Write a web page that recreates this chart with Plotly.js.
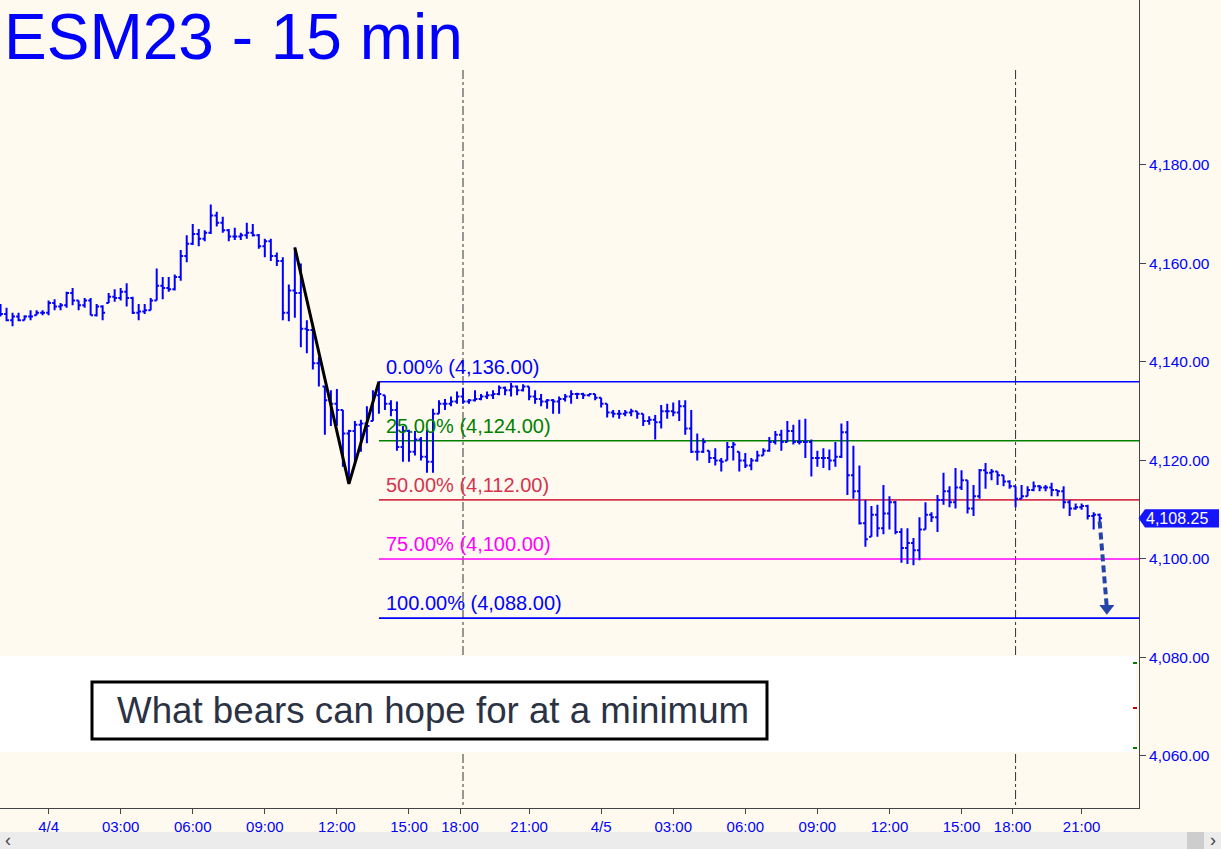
<!DOCTYPE html>
<html><head><meta charset="utf-8">
<script src="https://cdn.plot.ly/plotly-3.0.1.min.js"></script>
<style>html,body{margin:0;padding:0;background:#fffaf0;}#chart{width:1221px;height:849px;}</style>
</head><body><div id="chart"></div>
<script>
// ---- DATA (15-min bars, ESM23) ----
const firstBar = -8; // bar index of first bar, 4/4 00:00 = 0
const opens = [
 4150.5,4149.75,4148.5,4149.25,4148.5,4149.25,4149.5,4150.0,
 4150.0,4152.0,4151.25,4151.5,4154.0,4152.5,4151.5,4152.5,
 4149.5,4151.25,4152.0,4153.25,4153.0,4154.25,4153.0,4150.0,
 4150.25,4150.5,4152.5,4155.5,4155.0,4154.75,4157.25,4161.5,
 4164.0,4166.0,4165.0,4166.25,4169.75,4168.25,4166.75,4165.5,
 4165.5,4165.75,4166.25,4165.75,4163.5,4164.5,4161.5,4160.5,
 4150.0,4154.5,4154.0,4146.75,4146.5,4139.75,4135.0,4132.25,
 4131.5,4130.25,4125.5,4126.0,4127.25,4127.5,4128.0,4133.25,
 4133.25,4131.5,4130.25,4122.75,4126.0,4121.75,4124.25,4120.75,
 4119.75,4129.5,4131.5,4131.5,4132.0,4133.0,4132.0,4132.25,
 4132.5,4133.0,4133.25,4133.5,4134.75,4134.25,4135.0,4134.25,
 4135.0,4133.0,4132.5,4132.0,4132.25,4132.0,4132.5,4133.0,
 4133.5,4133.5,4133.25,4133.5,4132.75,4131.5,4129.75,4129.5,
 4129.5,4129.75,4130.0,4129.5,4128.0,4128.25,4127.75,4130.0,
 4130.0,4129.75,4131.0,4126.5,4121.75,4121.75,4122.0,4120.5,
 4120.0,4120.0,4122.75,4121.75,4120.0,4119.0,4120.0,4121.0,
 4122.0,4123.75,4125.25,4123.75,4126.0,4123.75,4123.75,4123.75,
 4120.5,4120.5,4120.5,4120.0,4120.75,4125.75,4117.0,4113.75,
 4107.25,4104.5,4109.0,4106.25,4109.25,4111.5,4105.5,4102.25,
 4103.25,4101.75,4106.0,4109.0,4108.5,4112.0,4113.75,4111.5,
 4114.5,4116.0,4110.25,4112.75,4118.0,4117.5,4117.75,4117.0,
 4115.75,4114.75,4112.25,4112.75,4114.0,4114.75,4114.5,4114.5,
 4114.0,4113.75,4111.5,4110.25,4110.5,4110.75,4108.75,4109.0
];
const highs = [
 4151.75,4151.0,4150.0,4150.0,4149.5,4150.5,4150.5,4150.5,
 4152.5,4152.75,4152.0,4154.25,4155.0,4152.5,4153.0,4153.0,
 4151.75,4151.5,4154.0,4154.75,4155.0,4156.0,4153.25,4151.75,
 4151.75,4153.0,4159.0,4157.25,4157.25,4157.75,4162.75,4165.75,
 4168.0,4167.0,4166.75,4172.0,4170.5,4169.5,4167.0,4167.25,
 4166.25,4168.25,4168.0,4166.0,4165.0,4165.0,4162.25,4161.25,
 4155.75,4163.25,4160.0,4148.5,4147.25,4141.0,4135.0,4134.25,
 4134.5,4130.25,4126.25,4128.0,4128.25,4131.0,4134.25,4136.0,
 4133.25,4132.25,4132.0,4127.0,4126.25,4126.0,4124.75,4126.25,
 4130.5,4132.25,4132.5,4133.0,4134.0,4134.75,4132.5,4134.25,
 4133.5,4134.0,4134.25,4135.25,4135.0,4135.75,4135.25,4135.5,
 4135.0,4134.25,4133.5,4132.5,4132.5,4133.0,4133.5,4134.25,
 4133.75,4133.75,4133.5,4133.5,4132.75,4131.5,4130.25,4130.25,
 4130.25,4130.5,4130.0,4129.5,4129.0,4129.25,4131.25,4131.5,
 4131.75,4132.25,4132.25,4130.25,4125.5,4124.5,4122.0,4122.5,
 4120.5,4123.75,4123.75,4121.75,4121.5,4120.5,4122.0,4122.5,
 4124.75,4126.0,4126.25,4128.0,4127.25,4128.25,4128.5,4124.25,
 4122.0,4122.5,4122.25,4123.75,4127.5,4128.0,4123.0,4119.0,
 4112.0,4110.75,4111.0,4115.0,4112.75,4111.75,4106.25,4106.25,
 4104.25,4108.5,4111.5,4109.5,4113.0,4117.5,4114.75,4118.5,
 4118.0,4116.0,4115.0,4118.25,4119.5,4118.25,4117.75,4117.0,
 4116.0,4114.75,4115.0,4114.75,4115.75,4115.0,4115.0,4115.5,
 4114.0,4114.75,4112.0,4111.25,4111.25,4111.0,4109.5,4109.25
];
const lows = [
 4149.25,4148.25,4147.25,4148.25,4148.5,4148.5,4149.5,4149.5,
 4149.5,4150.5,4150.5,4151.0,4151.5,4150.5,4151.0,4149.5,
 4149.25,4148.5,4152.0,4152.25,4152.5,4151.25,4149.75,4148.5,
 4149.75,4150.5,4152.5,4152.75,4154.25,4154.5,4156.5,4160.25,
 4163.75,4163.5,4164.5,4166.0,4167.5,4166.25,4164.5,4164.75,
 4164.75,4165.0,4165.5,4163.0,4161.25,4160.5,4159.5,4148.5,
 4148.25,4149.0,4143.0,4141.75,4138.5,4135.0,4125.25,4127.0,
 4127.0,4118.75,4115.25,4119.5,4121.75,4123.5,4128.0,4129.5,
 4130.25,4129.0,4122.0,4119.75,4119.75,4121.0,4120.0,4117.5,
 4117.5,4129.5,4130.25,4131.0,4131.5,4131.5,4131.5,4132.0,
 4132.25,4132.5,4132.5,4133.25,4133.25,4133.0,4133.25,4134.0,
 4132.25,4131.5,4131.0,4130.5,4129.5,4129.5,4132.0,4131.5,
 4132.5,4132.5,4133.0,4132.25,4130.75,4128.75,4128.75,4128.5,
 4129.0,4129.0,4128.5,4127.0,4127.25,4124.25,4126.5,4128.5,
 4129.0,4128.0,4125.25,4121.5,4120.0,4121.5,4119.5,4119.0,
 4117.75,4120.0,4120.0,4117.75,4118.5,4118.0,4119.75,4121.0,
 4121.75,4123.25,4122.0,4123.75,4123.25,4123.25,4120.5,4116.75,
 4118.75,4118.5,4118.0,4118.75,4120.5,4113.0,4112.25,4107.0,
 4102.5,4104.5,4104.5,4105.0,4106.0,4105.0,4099.25,4099.0,
 4098.75,4099.75,4106.0,4107.5,4105.5,4111.0,4110.5,4110.25,
 4114.0,4109.25,4108.75,4112.25,4114.25,4116.0,4115.0,4114.75,
 4114.25,4110.5,4112.25,4112.75,4113.75,4113.75,4113.75,4112.75,
 4112.75,4110.25,4108.75,4110.0,4110.0,4108.0,4106.0,4107.5
];
const closes = [
 4149.75,4148.5,4149.25,4148.5,4149.25,4149.25,4150.0,4150.0,
 4152.0,4151.25,4151.5,4154.0,4152.5,4151.5,4152.5,4149.5,
 4151.25,4150.0,4153.25,4153.0,4154.25,4153.0,4150.0,4150.25,
 4150.5,4152.5,4155.5,4155.0,4154.75,4157.25,4161.5,4164.0,
 4166.0,4165.0,4166.25,4169.75,4168.25,4166.75,4165.5,4165.5,
 4165.75,4166.25,4165.75,4163.5,4164.5,4161.5,4160.5,4150.0,
 4154.5,4154.0,4146.75,4146.5,4139.75,4140.5,4132.25,4131.5,
 4130.25,4125.5,4126.0,4127.25,4127.5,4127.0,4133.25,4133.5,
 4131.5,4130.25,4122.75,4126.0,4121.75,4124.25,4120.75,4119.75,
 4129.5,4131.5,4131.5,4132.0,4133.0,4132.0,4132.25,4132.5,
 4133.0,4133.25,4133.5,4134.75,4134.25,4135.0,4134.25,4135.0,
 4133.0,4132.5,4132.0,4132.25,4132.0,4132.5,4133.0,4133.5,
 4133.5,4133.25,4133.5,4132.75,4131.5,4129.75,4129.5,4129.5,
 4129.75,4130.0,4129.5,4128.0,4128.25,4127.75,4130.0,4130.0,
 4129.75,4131.0,4126.5,4121.75,4121.75,4123.75,4120.5,4120.0,
 4119.75,4122.75,4123.25,4120.0,4119.0,4120.0,4121.0,4122.0,
 4123.75,4125.25,4123.75,4126.0,4123.75,4123.75,4123.75,4120.5,
 4120.5,4120.5,4120.0,4120.75,4125.75,4117.0,4113.75,4107.25,
 4104.0,4109.0,4106.25,4109.25,4111.5,4105.5,4102.25,4103.25,
 4101.75,4106.0,4109.0,4108.5,4112.0,4113.75,4111.5,4114.5,
 4116.0,4110.25,4112.75,4118.0,4117.5,4117.75,4117.0,4115.75,
 4114.75,4112.25,4112.75,4114.0,4114.75,4114.5,4114.5,4114.0,
 4113.75,4111.5,4110.25,4110.5,4110.75,4108.75,4109.0,4108.25
];
const tickPos = [0,12,24,36,48,60,68.5,80,92,104,116,128,140,152,160.5,172];
const tickLabels = ["4/4","03:00","06:00","09:00","12:00","15:00","18:00","21:00","4/5","03:00","06:00","09:00","12:00","15:00","18:00","21:00"];
const sessionBreaks = [69, 161];
const swingX = [41, 50, 55];
const swingY = [4163.25, 4115.25, 4136.00];
const fibStartX = 55;
const fibPct = ["0.00%","25.00%","50.00%","75.00%","100.00%"];
const fibPrice = [4136.00, 4124.00, 4112.00, 4100.00, 4088.00];
const fibColor = ["#0000ff","#008000","#d6334f","#ff00ff","#0000ff"];
const arrowX = [175, 176.2];
const arrowY = [4107.6, 4090.0];
const lastPrice = 4108.25;
const noteText = "What bears can hope for at a minimum";
const chartTitle = "ESM23 - 15 min";

// ---- BUILD ----
const xs = opens.map((_, i) => firstBar + i);
const X0 = -8.09, X1 = 181.55, Y0 = 4049.44, Y1 = 4213.5;
const PW = 1139, PH = 808; // plot area size in px
const px = v => v / PW;           // px -> paper x
const py = v => 1 - v / PH;       // px from top -> paper y
const font = "Arial, 'Liberation Sans', sans-serif";

const traces = [
  { type: 'ohlc', x: xs, open: opens, high: highs, low: lows, close: closes,
    increasing: { line: { color: '#0000ff', width: 2 } },
    decreasing: { line: { color: '#0000ff', width: 2 } },
    tickwidth: 0.4, hoverinfo: 'skip', showlegend: false },
  { type: 'scatter', mode: 'lines', x: swingX, y: swingY,
    line: { color: '#000000', width: 3 }, hoverinfo: 'skip', showlegend: false },
  { type: 'scatter', mode: 'lines', x: arrowX, y: arrowY,
    line: { color: '#2344a8', width: 4, dash: '7px,4px' }, hoverinfo: 'skip', showlegend: false },
  { type: 'scatter', mode: 'markers', x: [arrowX[1]], y: [arrowY[1]],
    marker: { symbol: 'triangle-down', size: 13, color: '#2344a8' }, hoverinfo: 'skip', showlegend: false }
];

const shapes = [];
sessionBreaks.forEach(b => shapes.push({ type: 'line', layer: 'below', xref: 'x', yref: 'paper',
  x0: b, x1: b, y0: py(70), y1: 0, line: { color: '#333', width: 1, dash: 'dashdot' } }));
shapes.push({ type: 'rect', layer: 'below', xref: 'paper', yref: 'paper',
  x0: 0, x1: px(1136), y0: py(752), y1: py(656), fillcolor: '#ffffff', line: { width: 0 } });
fibPrice.forEach((p, k) => shapes.push({ type: 'line', layer: 'below', xref: 'x', yref: 'y',
  x0: fibStartX, x1: X1, y0: p, y1: p, line: { color: fibColor[k], width: 1.6 } }));
// small edge marks
[[663,'#008000'],[708,'#cc0000'],[748,'#008000']].forEach(m => shapes.push({ type: 'line', xref: 'paper', yref: 'paper',
  x0: px(1133), x1: px(1137), y0: py(m[0]), y1: py(m[0]), line: { color: m[1], width: 2 } }));
// note box
shapes.push({ type: 'rect', xref: 'paper', yref: 'paper', x0: px(92), x1: px(767), y0: py(739), y1: py(682),
  fillcolor: '#ffffff', line: { color: '#000000', width: 3 } });
// price tag arrow
const th = 1.85;
shapes.push({ type: 'path', xref: 'paper', yref: 'y',
  path: `M ${px(1138.5)} ${lastPrice} L ${px(1145)} ${lastPrice + th} L ${px(1219)} ${lastPrice + th} L ${px(1219)} ${lastPrice - th} L ${px(1145)} ${lastPrice - th} Z`,
  fillcolor: '#1414ff', line: { width: 0 } });
// scrollbar
shapes.push({ type: 'rect', xref: 'paper', yref: 'paper', x0: 0, x1: px(1221), y0: py(849), y1: py(832),
  fillcolor: '#ececec', line: { width: 0 } });
shapes.push({ type: 'rect', xref: 'paper', yref: 'paper', x0: px(1187), x1: px(1204), y0: py(849), y1: py(832),
  fillcolor: '#cdcdcd', line: { width: 0 } });

const annotations = [];
annotations.push({ text: chartTitle, xref: 'paper', yref: 'paper', x: px(2), y: py(37),
  xanchor: 'left', yanchor: 'middle', showarrow: false, font: { family: font, size: 64, color: '#0000ff' } });
fibPrice.forEach((p, k) => annotations.push({
  text: `${fibPct[k]} (${p.toLocaleString('en-US', { minimumFractionDigits: 2 })})`,
  xref: 'x', yref: 'y', x: fibStartX, y: p, xanchor: 'left', yanchor: 'bottom', xshift: 5, yshift: 2,
  showarrow: false, font: { family: font, size: 20, color: fibColor[k] } }));
annotations.push({ text: noteText, xref: 'paper', yref: 'paper', x: px(115), y: py(710),
  xanchor: 'left', yanchor: 'middle', showarrow: false, font: { family: font, size: 36.7, color: '#2b3243' } });
annotations.push({ text: lastPrice.toLocaleString('en-US', { minimumFractionDigits: 2 }),
  xref: 'paper', yref: 'y', x: px(1144), y: lastPrice, xanchor: 'left', yanchor: 'middle',
  showarrow: false, font: { family: font, size: 16, color: '#ffffff' } });
annotations.push({ text: '‹', xref: 'paper', yref: 'paper', x: px(8), y: py(840), xanchor: 'center', yanchor: 'middle',
  showarrow: false, font: { family: font, size: 18, color: '#444' } });
annotations.push({ text: '›', xref: 'paper', yref: 'paper', x: px(1213), y: py(840), xanchor: 'center', yanchor: 'middle',
  showarrow: false, font: { family: font, size: 18, color: '#444' } });

const layout = {
  width: 1221, height: 849,
  margin: { l: 0, r: 82, t: 0, b: 41 },
  paper_bgcolor: '#fffaf0', plot_bgcolor: '#fffaf0',
  showlegend: false,
  xaxis: { range: [X0, X1], tickvals: tickPos, ticktext: tickLabels, ticks: 'outside', ticklen: 5,
    tickcolor: '#444', showline: true, linecolor: '#444', linewidth: 1, showgrid: false, zeroline: false,
    rangeslider: { visible: false }, tickfont: { family: font, size: 15, color: '#0000ff' } },
  yaxis: { range: [Y0, Y1], side: 'right', tickvals: [4060,4080,4100,4120,4140,4160,4180], tickformat: ',.2f',
    ticks: 'outside', ticklen: 6, tickcolor: '#444', showline: true, linecolor: '#444', linewidth: 1,
    showgrid: false, zeroline: false, tickfont: { family: font, size: 15.5, color: '#0000ff' } },
  shapes: shapes, annotations: annotations
};
Plotly.newPlot('chart', traces, layout, { staticPlot: true, displayModeBar: false });
</script></body></html>
